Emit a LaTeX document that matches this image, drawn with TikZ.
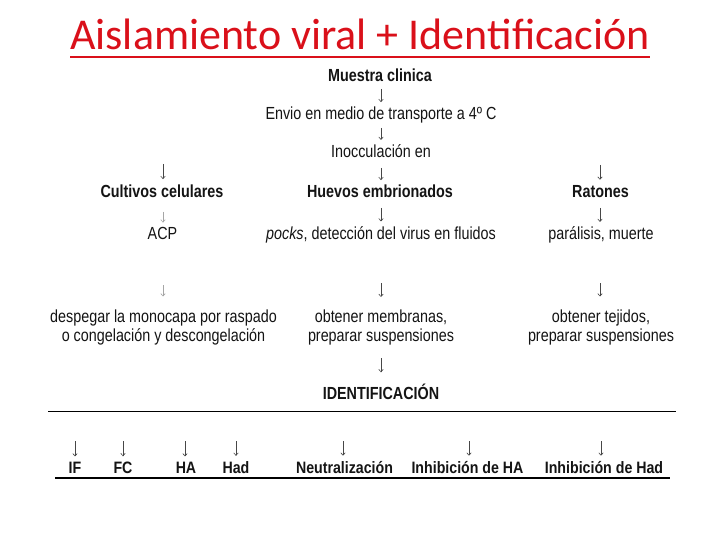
\documentclass[tikz,border=0pt]{standalone}
\usepackage{fontspec}
\setmainfont{Liberation Sans}
\newfontfamily\bodyfont[FakeStretch=0.82]{Liberation Sans}
\newfontfamily\labfont[FakeStretch=0.86]{Liberation Sans}
\newfontfamily\titlefont{Carlito}
\usetikzlibrary{arrows.meta}
\definecolor{titlered}{RGB}{218,16,26}
\newcommand{\twolines}[2]{\begin{tabular}[t]{@{}c@{}}#1\\#2\end{tabular}}
\begin{document}
\begin{tikzpicture}[x=1pt,y=-1pt,
  txt/.style={font=\bodyfont\fontsize{17.5}{19}\selectfont, inner sep=0pt, anchor=base, text=black!92},
  hd/.style={txt, font=\bodyfont\bfseries\fontsize{17.5}{19}\selectfont},
  lab/.style={font=\labfont\bfseries\fontsize{16.5}{19}\selectfont, inner sep=0pt, anchor=base, text=black!92},
  arr/.style={draw=black!72, line width=0.6pt, -{Straight Barb[length=2.5pt,width=4.5pt]}, shorten >=5pt},
  faint/.style={arr, draw=black!35},
  rule/.style={draw=black, line width=1pt}
]
\path[use as bounding box, fill=white] (0,0) rectangle (720,540);

% title
\node[font=\titlefont\fontsize{44}{50}\selectfont, text=titlered, inner sep=0pt, anchor=base] (title) at (360,50) {Aislamiento viral + Identificación};
\draw[titlered, line width=2.6pt] ([yshift=-7pt]title.base west) -- ([yshift=-7pt]title.base east);

% middle column
\node[hd]  (muestra) at (380,81.7) {Muestra clinica};
\node[txt] (envio)   at (381,120) {Envio en medio de transporte a 4º C};
\node[txt] (inoc)    at (381,158) {Inocculación en};
\node[hd]  (huevos)  at (380,198) {Huevos embrionados};
\node[txt] (pocks)   at (381,239.5) {{\itshape pocks}, detección del virus en fluidos};
\node[txt] (memb)    at (381,322.5) {\twolines{obtener membranas,}{preparar suspensiones}};
\node[hd]  (ident)   at (381,399) {IDENTIFICACIÓN};

% left column
\node[hd]  (cult) at (162,197) {Cultivos celulares};
\node[txt] (acp)  at (162.5,240) {ACP};
\node[txt] (desp) at (163.5,322) {\twolines{despegar la monocapa por raspado}{o congelación y descongelación}};

% right column
\node[hd]  (raton) at (600.5,197) {Ratones};
\node[txt] (paral) at (601,240) {parálisis, muerte};
\node[txt] (tej)   at (601,322) {\twolines{obtener tejidos,}{preparar suspensiones}};

% arrow start points
\coordinate (a1) at (381,89);
\coordinate (a2) at (381,128);
\coordinate (a3) at (381,168);
\coordinate (a4) at (381,208);
\coordinate (a5) at (381,283);
\coordinate (a6) at (381,358);
\coordinate (l1) at (163,164);
\coordinate (l2) at (163,212);
\coordinate (l3) at (163,285);
\coordinate (r1) at (600,165);
\coordinate (r2) at (600,208);
\coordinate (r3) at (600,283);

\draw[arr] (a1) -- (a1 |- envio.north);
\draw[arr] (a2) -- (a2 |- inoc.north);
\draw[arr] (a3) -- (a3 |- huevos.north);
\draw[arr] (a4) -- (a4 |- pocks.north);
\draw[arr, shorten >=12pt] (a5) -- (a5 |- memb.north);
\draw[arr, shorten >=11pt] (a6) -- (a6 |- ident.north);
\draw[arr] (l1) -- (l1 |- cult.north);
\draw[faint] (l2) -- (l2 |- acp.north);
\draw[faint, shorten >=12pt] (l3) -- (l3 |- desp.north);
\draw[arr] (r1) -- (r1 |- raton.north);
\draw[arr] (r2) -- (r2 |- paral.north);
\draw[arr, shorten >=12pt] (r3) -- (r3 |- tej.north);

% separator
\coordinate (s1) at (48,411);
\coordinate (s2) at (676,411);
\draw[rule] (s1) -- (s2);

% identification methods
\node[lab] (if)   at (75,473) {IF};
\node[lab] (fc)   at (123,473) {FC};
\node[lab] (ha)   at (186,473) {HA};
\node[lab] (had)  at (236,473) {Had};
\node[lab] (neu)  at (344.5,473) {Neutralización};
\node[lab] (iha)  at (467.5,473) {Inhibición de HA};
\node[lab] (ihad) at (604,473) {Inhibición de Had};

\coordinate (b1) at (75,441);
\coordinate (b2) at (123,441);
\coordinate (b3) at (185,441);
\coordinate (b4) at (236,441);
\coordinate (b5) at (343,441);
\coordinate (b6) at (469,441);
\coordinate (b7) at (601,441);
\draw[arr] (b1) -- (b1 |- if.north);
\draw[arr] (b2) -- (b2 |- fc.north);
\draw[arr] (b3) -- (b3 |- ha.north);
\draw[arr] (b4) -- (b4 |- had.north);
\draw[arr] (b5) -- (b5 |- neu.north);
\draw[arr] (b6) -- (b6 |- iha.north);
\draw[arr] (b7) -- (b7 |- ihad.north);

\coordinate (t1) at (55,478);
\coordinate (t2) at (670,478);
\draw[rule, line width=2.2pt] (t1) -- (t2);
\end{tikzpicture}
\end{document}
